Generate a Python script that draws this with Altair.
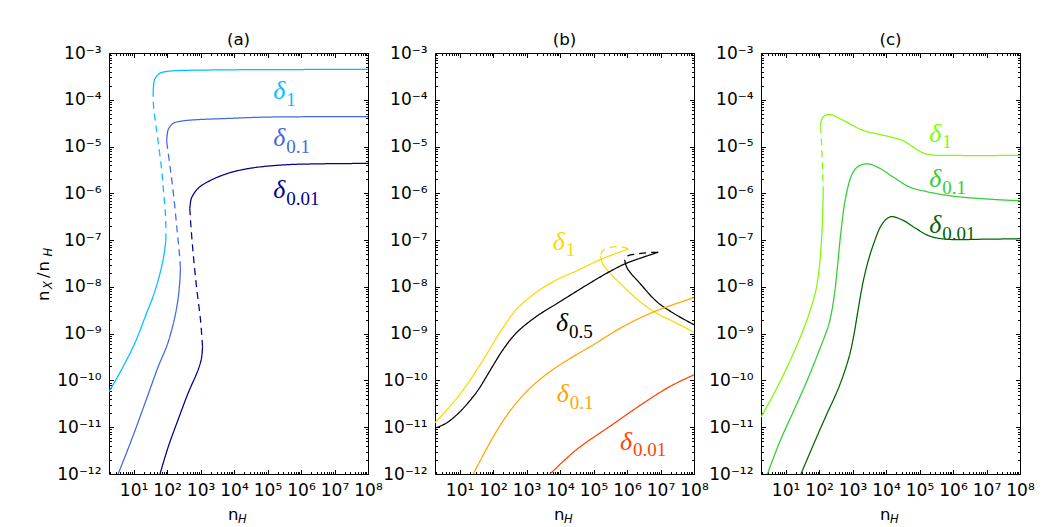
import altair as alt
import pandas as pd

# ---------------- data (log10 values) ----------------
# Panel (a)
PA_D1_LO_X = [0.27, 0.64, 1.04, 1.39, 1.60, 1.79, 1.90, 1.95, 1.965]
PA_D1_LO_Y = [-10.24, -9.77, -9.20, -8.56, -8.17, -7.71, -7.35, -7.10, -7.00]
PA_D1_MID_X = [1.965, 1.957, 1.90, 1.84, 1.74, 1.66, 1.60, 1.585]
PA_D1_MID_Y = [-7.00, -6.50, -6.00, -5.50, -4.93, -4.50, -4.18, -3.83]
PA_D1_HI_X = [1.585, 1.60, 1.64, 1.79, 1.95, 2.19, 2.60, 3.78, 5.00, 8.00]
PA_D1_HI_Y = [-3.83, -3.68, -3.55, -3.43, -3.40, -3.38, -3.37, -3.36, -3.355, -3.35]

PA_D01_LO_X = [0.54, 0.94, 1.34, 1.74, 2.00, 2.20, 2.32, 2.38, 2.40]
PA_D01_LO_Y = [-12.0, -11.27, -10.49, -9.70, -9.25, -8.75, -8.30, -7.90, -7.60]
PA_D01_MID_X = [2.40, 2.37, 2.29, 2.19, 2.09, 1.99]
PA_D01_MID_Y = [-7.60, -7.30, -6.71, -6.00, -5.43, -4.90]
PA_D01_HI_X = [1.99, 2.00, 2.04, 2.19, 2.40, 2.78, 3.78, 5.00, 8.00]
PA_D01_HI_Y = [-4.90, -4.78, -4.63, -4.50, -4.46, -4.43, -4.40, -4.37, -4.36]

PA_D001_LO_X = [1.79, 2.04, 2.33, 2.63, 2.93, 3.03, 3.06]
PA_D001_LO_Y = [-12.0, -11.41, -10.84, -10.27, -9.77, -9.52, -9.28]
PA_D001_MID_X = [3.06, 3.00, 2.88, 2.78, 2.70, 2.68]
PA_D001_MID_Y = [-9.28, -8.71, -8.00, -7.28, -6.57, -6.32]
PA_D001_HI_X = [2.68, 2.70, 2.73, 2.93, 3.28, 3.83, 4.52, 5.52, 6.50, 8.00]
PA_D001_HI_Y = [-6.32, -6.20, -6.10, -5.89, -5.73, -5.57, -5.46, -5.39, -5.37, -5.36]

# Panel (b)
PB_D1_LO_X = [0.27, 0.61, 1.01, 1.51, 1.81, 2.01, 2.30, 2.70, 3.30, 3.90, 4.49, 5.19, 5.69, 6.04]
PB_D1_LO_Y = [-10.90, -10.64, -10.30, -9.78, -9.44, -9.20, -8.87, -8.48, -8.11, -7.85, -7.66, -7.42, -7.28, -7.19]
PB_D1_MID_X = [6.04, 5.89, 5.69, 5.54, 5.39, 5.26, 5.21]
PB_D1_MID_Y = [-7.19, -7.15, -7.14, -7.15, -7.18, -7.24, -7.35]
PB_D1_HI_X = [5.21, 5.29, 5.54, 5.89, 6.38, 6.88, 7.38, 8.00]
PB_D1_HI_Y = [-7.35, -7.53, -7.74, -7.99, -8.31, -8.56, -8.74, -8.97]

PB_D05_LO_X = [0.27, 0.61, 1.01, 1.51, 1.81, 2.01, 2.30, 2.70, 3.30, 3.90, 4.89, 5.49, 5.93, 6.38, 6.93]
PB_D05_LO_Y = [-11.02, -10.91, -10.67, -10.25, -9.91, -9.67, -9.34, -8.98, -8.63, -8.36, -7.92, -7.67, -7.51, -7.39, -7.26]
PB_D05_MID_X = [6.93, 6.58, 6.28, 6.04, 5.95, 5.93]
PB_D05_MID_Y = [-7.26, -7.27, -7.30, -7.33, -7.37, -7.42]
PB_D05_HI_X = [5.93, 5.96, 6.04, 6.38, 6.88, 7.38, 8.00]
PB_D05_HI_Y = [-7.42, -7.52, -7.64, -7.92, -8.31, -8.56, -8.81]

PB_D01_X = [1.41, 2.01, 2.50, 3.00, 3.50, 3.99, 4.49, 4.99, 5.88, 6.88, 8.00]
PB_D01_Y = [-12.0, -11.20, -10.66, -10.24, -9.92, -9.67, -9.45, -9.24, -8.85, -8.51, -8.23]

PB_D001_X = [3.70, 4.49, 5.49, 6.48, 7.28, 8.00]
PB_D001_Y = [-12.0, -11.48, -10.98, -10.49, -10.13, -9.88]

# Panel (c)
PC_D1_LO_X = [0.27, 0.61, 1.01, 1.41, 1.71, 1.91, 2.01, 2.08, 2.11, 2.125]
PC_D1_LO_Y = [-10.78, -10.34, -9.77, -9.13, -8.56, -8.06, -7.57, -6.92, -6.40, -6.00]
PC_D1_MID_X = [2.125, 2.11, 2.09, 2.07, 2.05]
PC_D1_MID_Y = [-6.00, -5.60, -5.20, -4.85, -4.57]
PC_D1_HI_X = [2.05, 2.06, 2.09, 2.20, 2.35, 2.70, 3.30, 3.99, 4.49, 4.79, 5.09, 5.39, 5.99, 8.00]
PC_D1_HI_Y = [-4.57, -4.47, -4.40, -4.33, -4.32, -4.43, -4.65, -4.77, -4.87, -5.00, -5.13, -5.18, -5.19, -5.19]

PC_D01_X = [0.46, 0.81, 1.21, 1.61, 2.01, 2.30, 2.45, 2.55, 2.65, 2.80, 3.00, 3.20, 3.45,
            3.80, 4.19, 4.69, 5.19, 5.99, 6.98, 8.00]
PC_D01_Y = [-12.0, -11.34, -10.70, -10.06, -9.35, -8.78, -8.21, -7.57, -6.85, -6.07, -5.57, -5.41, -5.37,
            -5.46, -5.64, -5.86, -5.96, -6.06, -6.12, -6.16]

PC_D001_X = [1.46, 1.81, 2.20, 2.60, 2.90, 3.05, 3.15, 3.35, 3.60, 3.90, 4.14, 4.49, 4.89, 5.29, 5.79, 6.98, 8.00]
PC_D001_Y = [-12.0, -11.41, -10.77, -10.13, -9.49, -8.99, -8.56, -7.78, -7.14, -6.64, -6.50, -6.57, -6.75,
             -6.91, -6.98, -6.98, -6.97]

# Curve labels: panel, log x, log y (baseline of the delta), subscript, colour
LABEL_PANEL = ["a", "a", "a", "b", "b", "b", "b", "c", "c", "c"]
LABEL_LOGX = [5.17, 5.17, 5.17, 3.78, 3.88, 3.90, 5.79, 5.29, 5.29, 5.29]
LABEL_LOGY = [-3.99, -4.99, -6.10, -7.21, -8.95, -10.47, -11.48, -4.90, -5.87, -6.85]
LABEL_SUB = ["1", "0.1", "0.01", "1", "0.5", "0.1", "0.01", "1", "0.1", "0.01"]

C_A1, C_A01, C_A001 = "#00bfff", "#4169e1", "#00008b"
C_B1, C_B05, C_B01, C_B001 = "#ffd700", "#000000", "#ffa500", "#ff4500"
C_C1, C_C01, C_C001 = "#7cfc00", "#32cd32", "#006400"
LABEL_COLOR = [C_A1, C_A01, C_A001, C_B1, C_B05, C_B01, C_B001, C_C1, C_C01, C_C001]

PANEL_TITLES = ["(a)", "(b)", "(c)"]

X_MAJOR = [1e1, 1e2, 1e3, 1e4, 1e5, 1e6, 1e7, 1e8]
X_TICK_LABELS = ["10¹", "10²", "10³", "10⁴", "10⁵", "10⁶", "10⁷", "10⁸"]
Y_MAJOR = [1e-12, 1e-11, 1e-10, 1e-9, 1e-8, 1e-7, 1e-6, 1e-5, 1e-4, 1e-3]
Y_TICK_LABELS = ["10⁻¹²", "10⁻¹¹", "10⁻¹⁰", "10⁻⁹", "10⁻⁸", "10⁻⁷", "10⁻⁶", "10⁻⁵", "10⁻⁴", "10⁻³"]

X_DOMAIN = [1.85, 1e8]
Y_DOMAIN = [1e-12, 1e-3]

# ---------------- build tables ----------------
SEGMENTS = [
    ("a", "solid", PA_D1_LO_X, PA_D1_LO_Y, C_A1),
    ("a", "dashed", PA_D1_MID_X, PA_D1_MID_Y, C_A1),
    ("a", "solid", PA_D1_HI_X, PA_D1_HI_Y, C_A1),
    ("a", "solid", PA_D01_LO_X, PA_D01_LO_Y, C_A01),
    ("a", "dashed", PA_D01_MID_X, PA_D01_MID_Y, C_A01),
    ("a", "solid", PA_D01_HI_X, PA_D01_HI_Y, C_A01),
    ("a", "solid", PA_D001_LO_X, PA_D001_LO_Y, C_A001),
    ("a", "dashed", PA_D001_MID_X, PA_D001_MID_Y, C_A001),
    ("a", "solid", PA_D001_HI_X, PA_D001_HI_Y, C_A001),
    ("b", "solid", PB_D1_LO_X, PB_D1_LO_Y, C_B1),
    ("b", "dashed", PB_D1_MID_X, PB_D1_MID_Y, C_B1),
    ("b", "solid", PB_D1_HI_X, PB_D1_HI_Y, C_B1),
    ("b", "solid", PB_D05_LO_X, PB_D05_LO_Y, C_B05),
    ("b", "dashed", PB_D05_MID_X, PB_D05_MID_Y, C_B05),
    ("b", "solid", PB_D05_HI_X, PB_D05_HI_Y, C_B05),
    ("b", "solid", PB_D01_X, PB_D01_Y, C_B01),
    ("b", "solid", PB_D001_X, PB_D001_Y, C_B001),
    ("c", "solid", PC_D1_LO_X, PC_D1_LO_Y, C_C1),
    ("c", "dashed", PC_D1_MID_X, PC_D1_MID_Y, C_C1),
    ("c", "solid", PC_D1_HI_X, PC_D1_HI_Y, C_C1),
    ("c", "solid", PC_D01_X, PC_D01_Y, C_C01),
    ("c", "solid", PC_D001_X, PC_D001_Y, C_C001),
]

rows = []
for k, (panel, style, lx, ly, color) in enumerate(SEGMENTS):
    for i, (xv, yv) in enumerate(zip(lx, ly)):
        rows.append(dict(panel=panel, seg=f"s{k}", style=style, idx=i,
                         nh=10 ** xv, r=10 ** yv, color=color))
curves = pd.DataFrame(rows)

labels = pd.DataFrame(dict(panel=LABEL_PANEL,
                           lx=[10 ** v for v in LABEL_LOGX],
                           ly=[10 ** v for v in LABEL_LOGY],
                           d=["δ"] * len(LABEL_SUB),
                           sub=LABEL_SUB,
                           color=LABEL_COLOR))

X_TICKS = sorted(set([k * 10 ** e for e in range(0, 8) for k in range(2, 10)] + X_MAJOR))
Y_TICKS = sorted(set([k * 10.0 ** e for e in range(-12, -3) for k in range(1, 10)] + Y_MAJOR))

X_LABEL_EXPR = "[" + ",".join(f"'{s}'" for s in X_TICK_LABELS) + "][round(log(datum.value)/LN10)-1]"
Y_LABEL_EXPR = "[" + ",".join(f"'{s}'" for s in Y_TICK_LABELS) + "][round(log(datum.value)/LN10)+12]"
MAJOR_TEST = "abs(log(datum.value)/LN10 - round(log(datum.value)/LN10)) < 0.001"
TICK_SIZE = {"condition": {"test": MAJOR_TEST, "value": 4.5}, "value": 2.5}

W, H = 259, 421
FS = 17
TFS = 16.7
ONE = pd.DataFrame({"k": [0]})


def x_label_axis():
    return alt.Axis(orient="bottom", values=X_MAJOR, labelExpr=X_LABEL_EXPR, ticks=False,
                    domain=False, grid=False, labelPadding=8, labelFlush=False,
                    labelOverlap=False, title=None)


def y_label_axis():
    return alt.Axis(orient="left", values=Y_MAJOR, labelExpr=Y_LABEL_EXPR, ticks=False,
                    domain=False, grid=False, labelPadding=8, labelFlush=False,
                    labelOverlap=False, title=None)


def tick_axis(orient, offset, values):
    return alt.Axis(orient=orient, offset=offset, values=values, labels=False, domain=False,
                    grid=False, title=None, tickSize=TICK_SIZE, tickColor="black", tickWidth=1)


def piece(text, px, py, size, italic=False, angle=0):
    kw = dict(text=text, align="left", baseline="alphabetic", font="DejaVu Sans",
              fontSize=size, color="black")
    if italic:
        kw["fontStyle"] = "italic"
    if angle:
        kw["angle"] = angle
    return alt.Chart(ONE).mark_text(**kw).encode(x=alt.value(px), y=alt.value(py))


def axis_title_pieces(with_y):
    # x title: n_H
    out = [piece("n", W / 2 - 10.5, H + 45.5, 16.5),
           piece("H", W / 2 - 0.5, H + 49, 11.5, italic=True)]
    if with_y:
        # y title: n_X /n_H, rotated
        out += [piece("n", -60.5, 248, 16.5, angle=270),
                piece("X", -57.2, 236, 11.5, italic=True, angle=270),
                piece("/", -60.5, 225, 16.5, angle=270),
                piece("n", -60.5, 218.5, 16.5, angle=270),
                piece("H", -57.2, 203.5, 11.5, italic=True, angle=270)]
    return out


def panel(p, title, with_y):
    xs = alt.Scale(type="log", domain=X_DOMAIN, nice=False)
    ys = alt.Scale(type="log", domain=Y_DOMAIN, nice=False)
    d = curves[curves.panel == p]
    lab = labels[labels.panel == p]
    lines = alt.Chart(d).mark_line(strokeWidth=1.25, clip=True, interpolate="catmull-rom").encode(
        x=alt.X("nh:Q", scale=xs, axis=x_label_axis()),
        y=alt.Y("r:Q", scale=ys, axis=y_label_axis()),
        color=alt.Color("color:N", scale=None),
        strokeDash=alt.StrokeDash("style:N", legend=None,
                                  scale=alt.Scale(domain=["solid", "dashed"], range=[[1, 0], [7, 5]])),
        detail="seg:N",
        order="idx:Q",
    )
    delta = alt.Chart(lab).mark_text(align="left", baseline="alphabetic", font="Liberation Serif",
                                     fontStyle="italic", fontSize=26).encode(
        x=alt.X("lx:Q", scale=xs, axis=tick_axis("top", -H, X_TICKS)),
        y=alt.Y("ly:Q", scale=ys, axis=tick_axis("right", -W, Y_TICKS)),
        text="d:N",
        color=alt.Color("color:N", scale=None),
    )
    sub = alt.Chart(lab).mark_text(align="left", baseline="alphabetic", font="Liberation Serif",
                                   fontSize=19, dx=13, dy=6.5).encode(
        x=alt.X("lx:Q", scale=xs, axis=tick_axis("bottom", -H, X_TICKS)),
        y=alt.Y("ly:Q", scale=ys, axis=tick_axis("left", -W, Y_TICKS)),
        text="sub:N",
        color=alt.Color("color:N", scale=None),
    )
    layers = [lines, delta, sub] + axis_title_pieces(with_y)
    return alt.layer(*layers).resolve_axis(x="independent", y="independent").properties(
        width=W, height=H,
        title=alt.TitleParams(title, fontSize=TFS, font="DejaVu Sans", fontWeight="normal",
                              color="black", offset=-5),
    )


chart = alt.hconcat(
    panel("a", PANEL_TITLES[0], True),
    panel("b", PANEL_TITLES[1], False),
    panel("c", PANEL_TITLES[2], False),
    spacing=67, bounds="flush",
).properties(
    padding={"left": 27, "top": 23, "right": 5, "bottom": 0},
    background="white",
).configure(
    style={"group-title": {"fontSize": TFS, "font": "DejaVu Sans", "fontWeight": "normal"}},
).configure_view(
    stroke="black", strokeWidth=1,
).configure_axis(
    labelFont="DejaVu Sans", labelFontSize=FS, labelColor="black",
).configure_title(
    fontSize=TFS, font="DejaVu Sans", fontWeight="normal", color="black",
)

chart.save("out.html", embed_options={"renderer": "svg", "actions": False})
